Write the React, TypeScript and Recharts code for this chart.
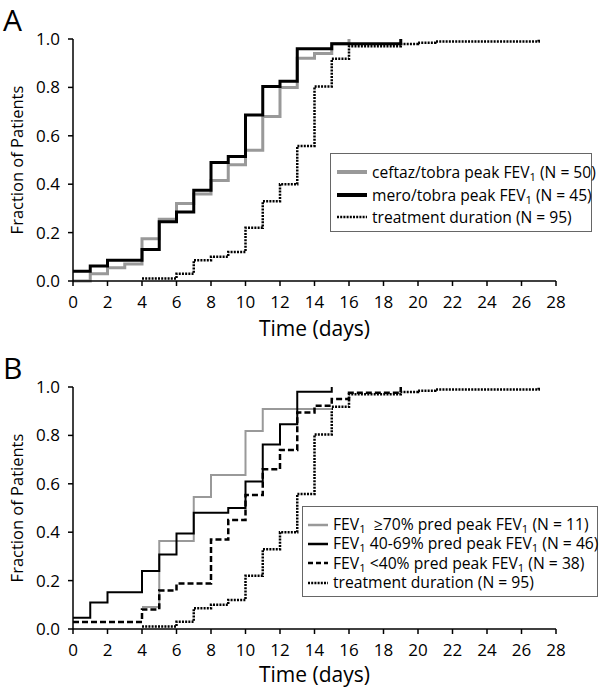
import React from 'react';
import { LineChart, Line, XAxis, YAxis, Legend, Label } from 'recharts';

// ---------- Panel A data ----------
const ceftazDays = [0, 1, 2, 3, 4, 5, 6, 7, 8, 9, 10, 11, 12, 13, 14, 15, 16];
const ceftazFrac = [0, 0.03, 0.055, 0.07, 0.175, 0.255, 0.32, 0.36, 0.415, 0.48, 0.54, 0.68, 0.8, 0.92, 0.94, 0.98, 1.0];

const meroDays = [0, 1, 2, 4, 5, 6, 7, 8, 9, 10, 11, 12, 13, 15, 19];
const meroFrac = [0.04, 0.062, 0.086, 0.13, 0.245, 0.285, 0.375, 0.49, 0.514, 0.686, 0.804, 0.825, 0.96, 0.98, 1.0];

// ---------- shared treatment duration ----------
const durDays = [4, 6, 7, 8, 9, 10, 11, 12, 13, 14, 15, 16, 19, 20, 21, 27];
const durFrac = [0.01, 0.03, 0.086, 0.1, 0.12, 0.22, 0.33, 0.4, 0.558, 0.804, 0.918, 0.97, 0.979, 0.985, 0.99, 1.0];

// ---------- Panel B data ----------
const highDays = [4, 5, 7, 8, 10, 11, 15];
const highFrac = [0.091, 0.364, 0.545, 0.636, 0.818, 0.909, 0.909];

const midDays = [0, 1, 2, 4, 5, 6, 7, 9, 10, 11, 12, 13, 15];
const midFrac = [0.047, 0.11, 0.152, 0.24, 0.308, 0.395, 0.48, 0.5, 0.61, 0.762, 0.846, 0.98, 1.0];

const lowDays = [0, 4, 5, 6, 8, 9, 10, 11, 12, 13, 14, 15, 16, 19];
const lowFrac = [0.029, 0.081, 0.159, 0.188, 0.37, 0.45, 0.554, 0.66, 0.74, 0.895, 0.923, 0.95, 0.976, 1.0];

const xTicks = [0, 2, 4, 6, 8, 10, 12, 14, 16, 18, 20, 22, 24, 26, 28];
const yTicks = [0, 0.2, 0.4, 0.6, 0.8, 1.0];

const FONT = '"Open Sans", "Noto Sans", "DejaVu Sans", sans-serif';

const toPts = (xs: number[], ys: number[]) => xs.map((x, i) => ({ x, y: ys[i] }));

type Series = {
  key: string;
  data: { x: number; y: number }[];
  stroke: string;
  width: number;
  dash?: string;
};

type LegendItem = { label: React.ReactNode; stroke: string; width: number; dash?: string };

const Sub = () => (
  <span style={{ fontSize: '0.72em', position: 'relative', top: '0.28em', lineHeight: 0 }}>1</span>
);

const DOT = '2 1.2';

const seriesA: Series[] = [
  { key: 'dur', data: toPts(durDays, durFrac), stroke: '#000', width: 2.5, dash: DOT },
  { key: 'ceftaz', data: toPts(ceftazDays, ceftazFrac), stroke: '#999', width: 3 },
  { key: 'mero', data: toPts(meroDays, meroFrac), stroke: '#000', width: 3 },
];

const seriesB: Series[] = [
  { key: 'dur', data: toPts(durDays, durFrac), stroke: '#000', width: 2.5, dash: DOT },
  { key: 'high', data: toPts(highDays, highFrac), stroke: '#999', width: 2 },
  { key: 'mid', data: toPts(midDays, midFrac), stroke: '#000', width: 2 },
  { key: 'low', data: toPts(lowDays, lowFrac), stroke: '#000', width: 2.5, dash: '6 3' },
];

const legendA: LegendItem[] = [
  { label: <>ceftaz/tobra peak FEV<Sub /> (N = 50)</>, stroke: '#999', width: 4 },
  { label: <>mero/tobra peak FEV<Sub /> (N = 45)</>, stroke: '#000', width: 4 },
  { label: <>treatment duration (N = 95)</>, stroke: '#000', width: 2.5, dash: DOT },
];

const legendB: LegendItem[] = [
  { label: <>FEV<Sub />{'  '}≥70% pred peak FEV<Sub /> (N = 11)</>, stroke: '#999', width: 2.5 },
  { label: <>FEV<Sub /> 40-69% pred peak FEV<Sub /> (N = 46)</>, stroke: '#000', width: 2.5 },
  { label: <>FEV<Sub /> &lt;40% pred peak FEV<Sub /> (N = 38)</>, stroke: '#000', width: 2.5, dash: '5 3' },
  { label: <>treatment duration (N = 95)</>, stroke: '#000', width: 2.5, dash: DOT },
];

type LegendCfg = {
  items: LegendItem[];
  left: number;
  top: number;
  width: number;
  height: number;
  sample: number;
  gap: number;
  rowH: number;
  pad: string;
  fontSize: number;
};

function LegendBox({ cfg }: { cfg: LegendCfg }) {
  return (
    <div
      style={{
        boxSizing: 'border-box',
        width: cfg.width,
        height: cfg.height,
        border: '1.5px solid #666',
        background: '#fff',
        padding: cfg.pad,
        fontFamily: FONT,
        fontSize: cfg.fontSize,
        color: '#000',
        whiteSpace: 'pre',
      }}
    >
      {cfg.items.map((it, i) => (
        <div
          key={i}
          style={{ display: 'flex', alignItems: 'center', height: cfg.rowH, lineHeight: `${cfg.rowH}px` }}
        >
          <svg width={cfg.sample} height={10} style={{ marginRight: cfg.gap, flex: 'none' }}>
            <line x1={0} y1={5} x2={cfg.sample} y2={5} stroke={it.stroke} strokeWidth={it.width} strokeDasharray={it.dash} />
          </svg>
          <span>{it.label}</span>
        </div>
      ))}
    </div>
  );
}

const legendCfgA: LegendCfg = {
  items: legendA,
  left: 330,
  top: 153,
  width: 262,
  height: 79,
  sample: 30,
  gap: 5,
  rowH: 22.5,
  pad: '7px 0 0 6px',
  fontSize: 15.6,
};

const legendCfgB: LegendCfg = {
  items: legendB,
  left: 302,
  top: 158,
  width: 296,
  height: 91,
  sample: 20,
  gap: 5,
  rowH: 19.3,
  pad: '8px 0 0 5px',
  fontSize: 15.7,
};

function Panel({ series, legend, titleOffset }: { series: Series[]; legend: LegendCfg; titleOffset: number }) {
  return (
    <LineChart width={600} height={348} margin={{ top: 39, right: 44, bottom: 0, left: 0 }}>
      <XAxis
        type="number"
        dataKey="x"
        domain={[0, 28]}
        ticks={xTicks}
        interval={0}
        allowDataOverflow
        height={67}
        tickSize={5}
        tickMargin={10}
        axisLine={{ stroke: '#000', strokeWidth: 1.5 }}
        tickLine={{ stroke: '#000', strokeWidth: 1.5 }}
        tick={{ fontSize: 17, fill: '#000', fontFamily: FONT }}
      >
        <Label
          value="Time (days)"
          position="insideBottom"
          offset={titleOffset}
          style={{ fontSize: 21, fill: '#000', fontFamily: FONT }}
        />
      </XAxis>
      <YAxis
        type="number"
        domain={[0, 1]}
        ticks={yTicks}
        interval={0}
        width={73}
        tickSize={5}
        tickMargin={8}
        tickFormatter={(v: number) => v.toFixed(1)}
        axisLine={{ stroke: '#000', strokeWidth: 1.5 }}
        tickLine={{ stroke: '#000', strokeWidth: 1.5 }}
        tick={{ fontSize: 17, fill: '#000', fontFamily: FONT }}
      >
        <Label
          value="Fraction of Patients"
          angle={-90}
          position="insideLeft"
          offset={17}
          style={{ fontSize: 16.5, fill: '#000', fontFamily: FONT, textAnchor: 'middle' }}
        />
      </YAxis>
      {series.map((s) => (
        <Line
          key={s.key}
          data={s.data}
          dataKey="y"
          type="stepAfter"
          stroke={s.stroke}
          strokeWidth={s.width}
          strokeDasharray={s.dash}
          strokeLinecap="butt"
          dot={false}
          activeDot={false}
          isAnimationActive={false}
        />
      ))}
      <Legend
        layout="vertical"
        align="center"
        verticalAlign="middle"
        wrapperStyle={{ left: legend.left, top: legend.top, width: legend.width, height: legend.height }}
        content={() => <LegendBox cfg={legend} />}
      />
    </LineChart>
  );
}

export default function App() {
  return (
    <div
      style={{
        position: 'absolute',
        left: 0,
        top: 0,
        width: 600,
        height: 688,
        overflow: 'hidden',
        background: '#fff',
      }}
    >
      <div style={{ position: 'absolute', left: 0, top: 0 }}>
        <Panel series={seriesA} legend={legendCfgA} titleOffset={12} />
      </div>
      <div style={{ position: 'absolute', left: 0, top: 348 }}>
        <Panel series={seriesB} legend={legendCfgB} titleOffset={14} />
      </div>
      <div style={{ position: 'absolute', left: 3, top: 5, fontFamily: FONT, fontSize: 30, lineHeight: 1 }}>A</div>
      <div style={{ position: 'absolute', left: 3, top: 353, fontFamily: FONT, fontSize: 30, lineHeight: 1 }}>B</div>
    </div>
  );
}
